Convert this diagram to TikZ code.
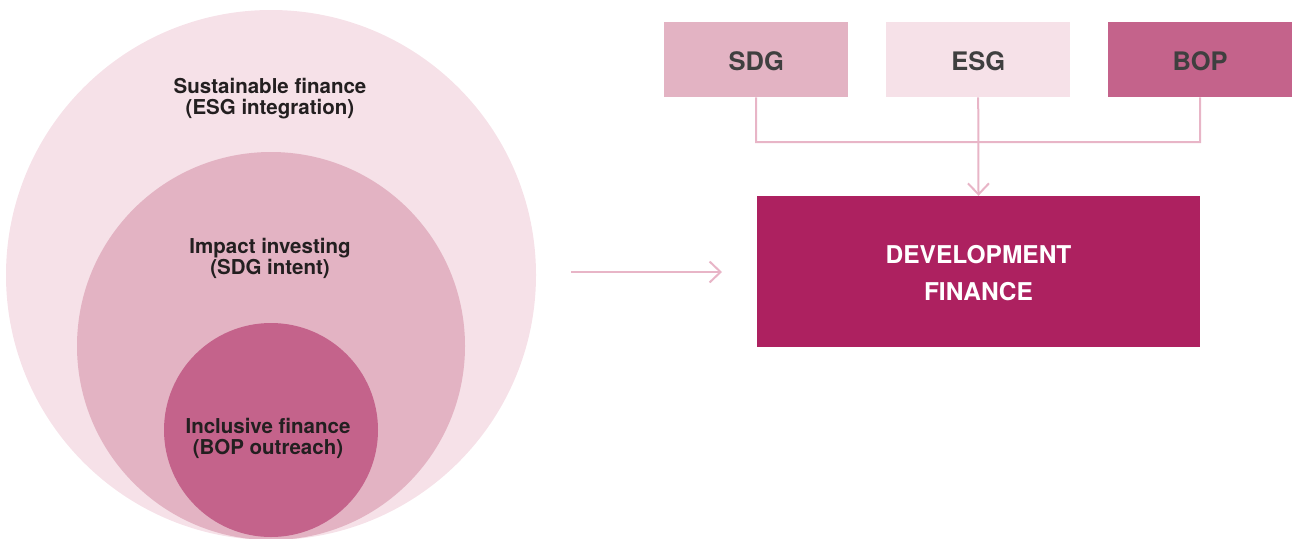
\documentclass[tikz,border=0pt]{standalone}
\usepackage{fontspec}
\setmainfont{TeX Gyre Heros}
\usetikzlibrary{arrows.meta, positioning}
\definecolor{pinklight}{HTML}{F6E1E8}
\definecolor{pinkmid}{HTML}{E3B3C3}
\definecolor{pinkdark}{HTML}{C4638B}
\definecolor{devred}{HTML}{AD2160}
\definecolor{linkpink}{HTML}{E8B5C7}
\definecolor{inktext}{HTML}{231F20}
\definecolor{boxtext}{HTML}{3F3F3F}

\begin{document}
\begin{tikzpicture}[x=1pt, y=-1pt,
    ring/.style={circle, inner sep=0pt, draw=none},
    circlabel/.style={font=\bfseries\fontsize{20.5}{21}\selectfont, text=inktext, align=center},
    srcbox/.style={minimum width=184pt, minimum height=75pt, inner sep=0pt, anchor=north west,
      text height=21pt, text depth=0pt,
      font=\bfseries\fontsize{25.5}{28}\selectfont, text=boxtext},
    devbox/.style={fill=devred, minimum width=443pt, minimum height=151pt, inner sep=0pt},
    devlabel/.style={text=white, align=center, font=\bfseries\fontsize{24.5}{37}\selectfont},
    link/.style={linkpink, line width=2pt},
    barb/.style={-{Straight Barb[length=11pt, width=21pt, line width=2pt]}}]

      \useasboundingbox (0,0) rectangle (1292,538);

      % circles, cut at the lower edge
      \begin{scope}
        \clip (0,0) rectangle (1292,538);
        \node[ring, fill=pinklight, minimum size=530pt] (outer) at (271,275) {};
        \node[ring, fill=pinkmid,   minimum size=388pt] (middle) at (271,346) {};
        \node[ring, fill=pinkdark,  minimum size=214pt] (inner) at (271,430) {};
      \end{scope}

      \node[circlabel] (outerlabel)  at (270,99)  {Sustainable finance\\(ESG integration)};
      \node[circlabel] (middlelabel) at (270,258) {Impact investing\\(SDG intent)};
      \node[circlabel] (innerlabel)  at (268,438) {Inclusive finance\\(BOP outreach)};

      % boxes on the right
      \node[srcbox, fill=pinkmid]   (sdg) at (664,22)  {SDG};
      \node[srcbox, fill=pinklight] (esg) at (886,22)  {ESG};
      \node[srcbox, fill=pinkdark]  (bop) at (1108,22) {BOP};

      \node[devbox] (dev) at (978.5,271.5) {};
      \node[devlabel] (devtext) at ([yshift=-2pt]dev.center) {DEVELOPMENT\\FINANCE};

      \draw[link] (sdg.south) |- (1200,142) -- (bop.south);
      \draw[link, barb] (esg.south) -- (dev.north);

      \coordinate (arrowtail) at (571,272);
      \coordinate (arrowtip)  at (722,272);
      \draw[link, barb] (arrowtail) -- (arrowtip);

    \end{tikzpicture}
\end{document}
